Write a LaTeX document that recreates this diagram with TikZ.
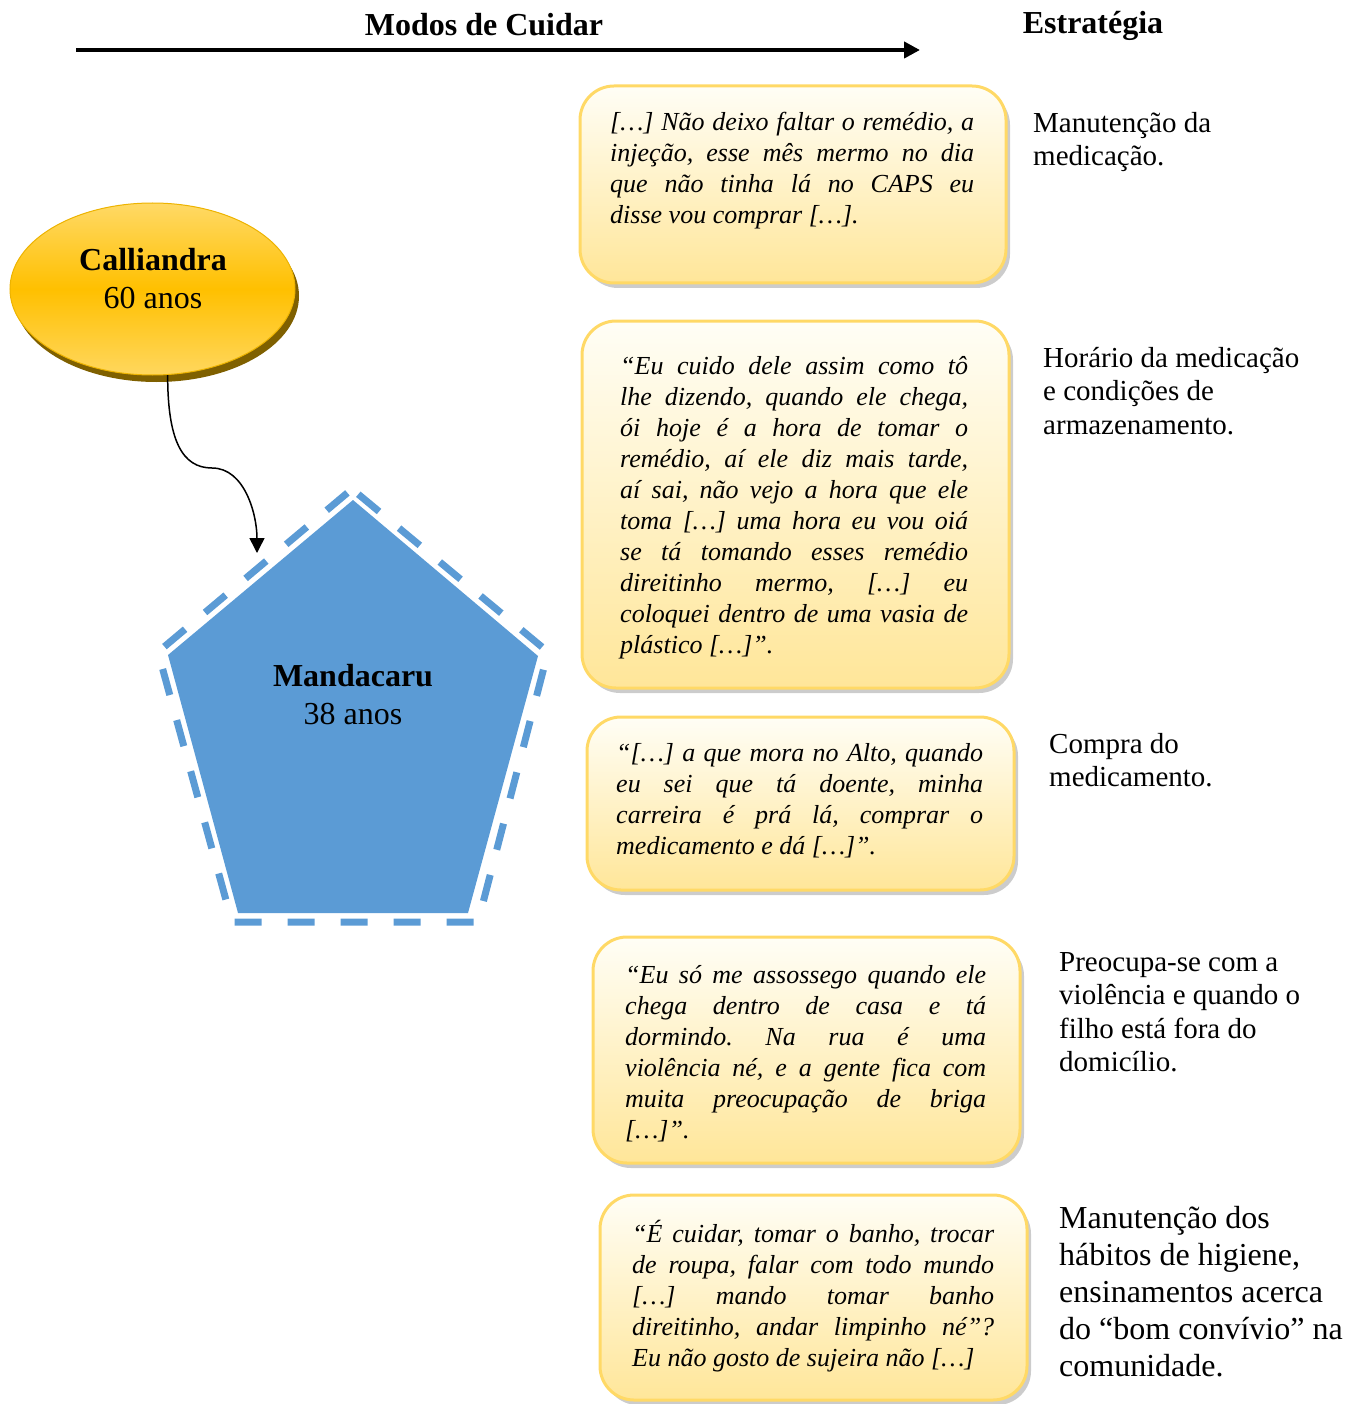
\documentclass[tikz,border=0pt]{standalone}
\usepackage{fontspec}
\setmainfont{Liberation Serif}
\usetikzlibrary{arrows.meta,shadows,shapes.geometric}

\definecolor{boxedge}{HTML}{FFD966}
\definecolor{boxtop}{HTML}{FFFEF6}
\definecolor{boxbot}{HTML}{FFE699}
\definecolor{ellTop}{HTML}{FFD966}
\definecolor{ellMid}{HTML}{FFC000}
\definecolor{ellBot}{HTML}{FFD75E}
\definecolor{ellEdge}{HTML}{EDB300}
\definecolor{ellShadow}{HTML}{7F6000}
\definecolor{pentblue}{HTML}{5B9BD5}

% width of the quotation text column, set per node
\newlength\quotewd
% use the font's own (stretchable) interword space, same after periods
\newcommand\fontspaces{\frenchspacing\spaceskip=0pt\xspaceskip=0pt\relax}
% one justified line of a quotation
\newcommand\jl[1]{{\fontspaces\makebox[\quotewd][s]{#1}}\\\relax}

\begin{document}
\begin{tikzpicture}[x=1pt,y=-1pt,
  quotebox/.style={rectangle, rounded corners=34pt, draw=boxedge, line width=3pt,
    top color=boxtop, bottom color=boxbot, inner sep=0pt,
    drop shadow={shadow xshift=4pt, shadow yshift=-5pt, fill=black!40, opacity=0.5}},
  quotetext/.style={anchor=north west, inner sep=0pt, align=left, text width=#1,
    execute at begin node={\setlength{\quotewd}{#1}},
    font=\fontsize{26}{31}\selectfont\itshape},
  sidetext/.style={anchor=north west, inner sep=0pt, align=left, text width=300pt,
    font=\fontsize{29}{33.5}\selectfont},
  header/.style={inner sep=0pt, font=\fontsize{32}{37}\selectfont\bfseries},
  person/.style={inner sep=0pt, align=center, font=\fontsize{32}{38}\selectfont}]

\useasboundingbox (0,0) rectangle (1360,1404);

% headers and timeline arrow
\node[header] (h1) at (484,25) {Modos de Cuidar};
\node[header] (h2) at (1093,26) {Estratégia};
\coordinate (a0) at (76,50);
\coordinate (a1) at (920,50);
\draw[line width=4.5pt, -{Triangle[length=16pt,width=16pt]}] (a0) -- (a1);

% caregiver ellipse
\node[ellipse, minimum width=285pt, minimum height=172pt, draw=ellEdge, line width=1pt,
  top color=ellTop, bottom color=ellBot, middle color=ellMid,
  drop shadow={shadow xshift=4pt, shadow yshift=-7pt, fill=ellShadow, opacity=1}]
  (ell) at (152.5,289) {};
\node[person] (ellt) at (153,279) {\textbf{Calliandra}\\60 anos};

% patient pentagon: dashed outer outline and filled body
\draw[pentblue, line width=7pt, dash pattern=on 27pt off 26pt, dash phase=47pt]
  (352,489) -- (158,652) -- (232,922) -- (478,922) -- (548,652) -- cycle;
\fill[pentblue] (353,500) -- (538,656) -- (468,913) -- (238,913) -- (168,655) -- cycle;
\node[person] (pent) at (353,695) {\textbf{Mandacaru}\\38 anos};

% curved connector
\coordinate (tip) at (257,553);
\draw[line width=1.5pt, -{Triangle[length=15pt,width=15pt]}]
  (ell.-80) .. controls (167.6,440) and (182,468) .. (212,468)
  .. controls (245,468) and (257,515) .. (tip);

% quotation boxes
\node[quotebox, minimum width=426pt, minimum height=197pt] (q1) at (793,184.5) {};
\node[quotebox, minimum width=427pt, minimum height=367pt] (q2) at (795.5,504.5) {};
\node[quotebox, minimum width=427pt, minimum height=173pt] (q3) at (800.5,803.5) {};
\node[quotebox, minimum width=427pt, minimum height=226pt] (q4) at (806.5,1050) {};
\node[quotebox, minimum width=427pt, minimum height=205pt] (q5) at (813.5,1297.5) {};

\node[quotetext=364pt] (t1) at (610,108.3) {\fontspaces\strut
  \jl{[…] Não deixo faltar o remédio, a}
  \jl{injeção, esse mês mermo no dia}
  \jl{que não tinha lá no CAPS eu}
  disse vou comprar […].};

\node[quotetext=348pt] (t2) at (620,352.3) {\fontspaces\strut
  \jl{“Eu cuido dele assim como tô}
  \jl{lhe dizendo, quando ele chega,}
  \jl{ói hoje é a hora de tomar o}
  \jl{remédio, aí ele diz mais tarde,}
  \jl{aí sai, não vejo a hora que ele}
  \jl{toma […] uma hora eu vou oiá}
  \jl{se tá tomando esses remédio}
  \jl{direitinho mermo, […] eu}
  \jl{coloquei dentro de uma vasia de}
  plástico […]”.};

\node[quotetext=367pt] (t3) at (616,739.3) {\fontspaces\strut
  \jl{“[…] a que mora no Alto, quando}
  \jl{eu sei que tá doente, minha}
  \jl{carreira é prá lá, comprar o}
  medicamento e dá […]”.};

\node[quotetext=361pt] (t4) at (625,961.3) {\fontspaces\strut
  \jl{“Eu só me assossego quando ele}
  \jl{chega dentro de casa e tá}
  \jl{dormindo. Na rua é uma}
  \jl{violência né, e a gente fica com}
  \jl{muita preocupação de briga}
  {[…]”.}};

\node[quotetext=362pt] (t5) at (632,1220.3) {\fontspaces\strut
  \jl{“É cuidar, tomar o banho, trocar}
  \jl{de roupa, falar com todo mundo}
  \jl{[…] mando tomar banho}
  \jl{direitinho, andar limpinho né”?}
  Eu não gosto de sujeira não […]};

% strategies
\node[sidetext] (s1) at (1033,108.5) {\fontspaces\strut Manutenção da\\medicação.};
\node[sidetext] (s2) at (1043,343.5) {\fontspaces\strut Horário da medicação\\e condições de\\armazenamento.};
\node[sidetext] (s3) at (1049,729.5) {\fontspaces\strut Compra do\\medicamento.};
\node[sidetext] (s4) at (1059,947.5) {\fontspaces\strut Preocupa-se com a\\violência e quando o\\filho está fora do\\domicílio.};
\node[sidetext, font=\fontsize{32}{37}\selectfont] (s5) at (1059,1202) {\fontspaces\strut Manutenção dos\\hábitos de higiene,\\ensinamentos acerca\\do “bom convívio” na\\comunidade.};

\end{tikzpicture}
\end{document}
